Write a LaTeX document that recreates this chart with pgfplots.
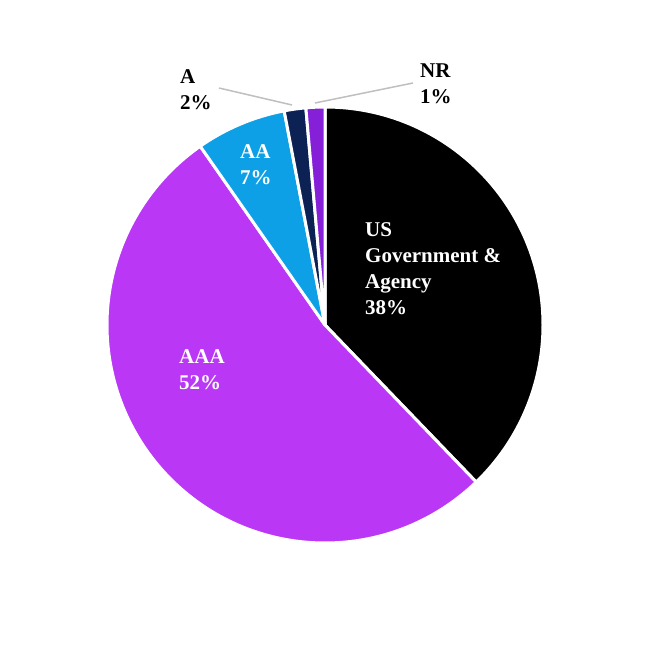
\documentclass[border=0pt]{standalone}
\usepackage{pgfplots}
\pgfplotsset{compat=1.18}
\usepackage{fontspec}
\setmainfont{Liberation Serif}
\definecolor{cgov}{RGB}{0,0,0}
\definecolor{caaa}{RGB}{185,55,245}
\definecolor{caa}{RGB}{14,160,230}
\definecolor{ca}{RGB}{12,34,84}
\definecolor{cnr}{RGB}{134,32,216}
\definecolor{lead}{RGB}{191,191,191}
% #1 share before this slice (%), #2 share (%), #3 colour
\newcommand{\slice}[3]{%
  \fill[#3,draw=white,line width=3bp,line join=round]
    (axis cs:325,325) -- ++({90-3.6*#1}:218bp)
    arc[start angle={90-3.6*#1}, delta angle={-3.6*#2}, radius=218bp] -- cycle;}
% anchor is the baseline of the last line
\tikzset{lbl/.style={anchor=base west,align=left,inner sep=0pt,
  font=\bfseries\fontsize{21bp}{26bp}\selectfont}}
\begin{document}
\begin{tikzpicture}
\useasboundingbox (0,0) rectangle (650bp,650bp);
\begin{axis}[hide axis,scale only axis,x=1bp,y=1bp,
  xmin=0,xmax=650,ymin=0,ymax=650,clip=false]
\slice{0}{37.8}{cgov}
\slice{37.8}{52.5}{caaa}
\slice{90.3}{6.7}{caa}
\slice{97.0}{1.6}{ca}
\slice{98.6}{1.4}{cnr}
\draw[lead,line width=1.5bp] (axis cs:219,562) -- (axis cs:292,545);
\draw[lead,line width=1.5bp] (axis cs:413,567) -- (axis cs:315,547);
\node[lbl,white] at (axis cs:365,335) {US\\Government \&\\Agency\\38\%};
\node[lbl,white] at (axis cs:179,260) {AAA\\52\%};
\node[lbl,white] at (axis cs:240,465) {AA\\7\%};
\node[lbl,black] at (axis cs:180,540) {A\\2\%};
\node[lbl,black] at (axis cs:420,546) {NR\\1\%};
\end{axis}
\end{tikzpicture}
\end{document}
